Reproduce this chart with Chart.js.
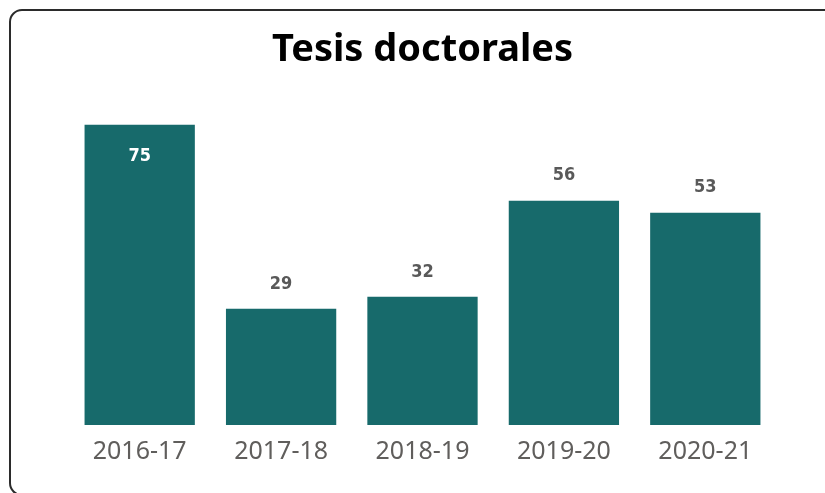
<!DOCTYPE html>
<html>
<head>
<meta charset="utf-8">
<script src="https://cdn.jsdelivr.net/npm/chart.js@4"></script>
<style>
  html, body { margin: 0; padding: 0; background: #fff; }
  #wrap { position: relative; width: 825px; height: 493px; overflow: hidden; }
  #card {
    position: absolute; left: 9px; top: 9px; width: 900px; height: 487px;
    border: 2px solid #2b2b2b; border-radius: 13px; box-sizing: border-box;
  }
  #chart { position: absolute; left: 0; top: 0; }
</style>
</head>
<body>
<div id="wrap">
  <div id="card"></div>
  <canvas id="chart" width="825" height="493"></canvas>
</div>
<script>
// data
const years = ["2016-17", "2017-18", "2018-19", "2019-20", "2020-21"];
const theses = [75, 29, 32, 56, 53];

const barColor = "#176a6b";

// value labels: inside the top of the tallest bar, above the others
const valueLabels = {
  id: "valueLabels",
  afterDatasetsDraw(chart) {
    const ctx = chart.ctx;
    const meta = chart.getDatasetMeta(0);
    const maxVal = Math.max(...theses);
    ctx.save();
    ctx.font = "bold 18px 'DejaVu Sans Condensed', 'DejaVu Sans'";
    ctx.textAlign = "center";
    ctx.textBaseline = "middle";
    meta.data.forEach((bar, i) => {
      const v = theses[i];
      if (v === maxVal) {
        ctx.fillStyle = "#ffffff";
        ctx.fillText(String(v), bar.x, bar.y + 32);
      } else {
        ctx.fillStyle = "#595959";
        ctx.fillText(String(v), bar.x, bar.y - 25);
      }
    });
    ctx.restore();
  }
};

new Chart(document.getElementById("chart"), {
  type: "bar",
  data: {
    labels: years,
    datasets: [{
      data: theses,
      backgroundColor: barColor,
      categoryPercentage: 0.78,
      barPercentage: 1.0,
    }],
  },
  options: {
    responsive: false,
    animation: false,
    layout: { padding: { left: 69, right: 49, top: 0, bottom: 14 } },
    plugins: {
      legend: { display: false },
      tooltip: { enabled: false },
      title: {
        display: true,
        text: "Tesis doctorales",
        color: "#000000",
        font: { family: "'Noto Sans'", size: 38, weight: "bold" },
        padding: { top: 27, bottom: 52 },
      },
    },
    scales: {
      x: {
        grid: { display: false, drawTicks: false },
        border: { display: false },
        ticks: {
          color: "#605e5c",
          padding: 12,
          font: { family: "'Noto Sans'", size: 25 },
        },
      },
      y: {
        display: false,
        min: 0,
        max: 75,
      },
    },
  },
  plugins: [valueLabels],
});
</script>
</body>
</html>
